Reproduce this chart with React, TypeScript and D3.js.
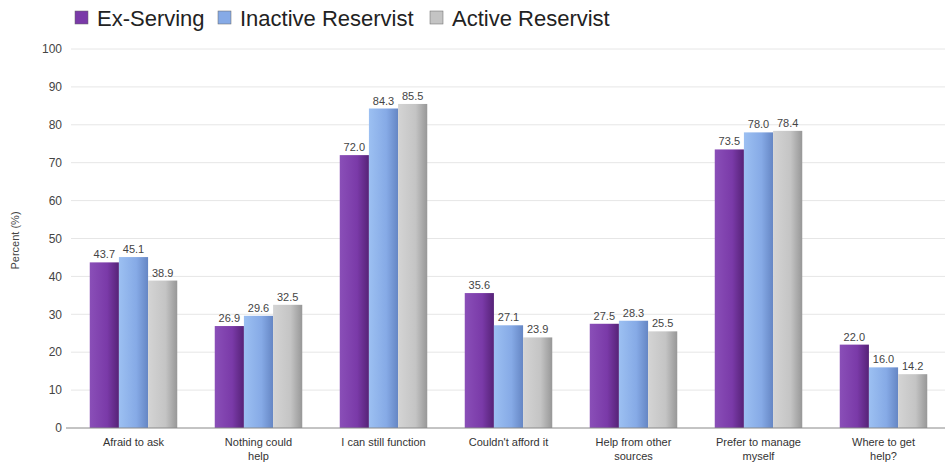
import React from "react";
import * as d3 from "d3";

const categories = [
  ["Afraid to ask"],
  ["Nothing could", "help"],
  ["I can still function"],
  ["Couldn't afford it"],
  ["Help from other", "sources"],
  ["Prefer to manage", "myself"],
  ["Where to get", "help?"],
];
const seriesNames = ["Ex-Serving", "Inactive Reservist", "Active Reservist"];
const exServing = [43.7, 26.9, 72.0, 35.6, 27.5, 73.5, 22.0];
const inactiveReservist = [45.1, 29.6, 84.3, 27.1, 28.3, 78.0, 16.0];
const activeReservist = [38.9, 32.5, 85.5, 23.9, 25.5, 78.4, 14.2];
const yTicks = [0, 10, 20, 30, 40, 50, 60, 70, 80, 90, 100];

const seriesValues = [exServing, inactiveReservist, activeReservist];
const gradStops = [
  ["#8a4fb8", "#7a3aa8", "#562277"],
  ["#9cc0f2", "#86aae6", "#6586c4"],
  ["#d4d4d4", "#c4c4c4", "#979797"],
];
const legendColors = ["#7a3aa8", "#86aae6", "#c4c4c4"];

export default function App() {
  const W = 945, H = 474;
  const x0 = d3.scaleBand<number>().domain(d3.range(categories.length)).range([71, 946]).paddingInner(0.3).paddingOuter(0.15);
  const x1 = d3.scaleBand<number>().domain([0, 1, 2]).range([0, x0.bandwidth()]).padding(0);
  const y = d3.scaleLinear().domain([0, 100]).range([428, 49]);
  const font = "Arial, 'Liberation Sans', sans-serif";
  const legendX = [75, 218, 430];
  return (
    <svg width={W} height={H} style={{ position: "absolute", left: 0, top: 0, background: "#fff" }} fontFamily={font}>
      <defs>
        {gradStops.map((s, i) => (
          <linearGradient key={i} id={"g" + i} x1="0" x2="1" y1="0" y2="0">
            <stop offset="0" stopColor={s[0]} />
            <stop offset="0.6" stopColor={s[1]} />
            <stop offset="1" stopColor={s[2]} />
          </linearGradient>
        ))}
      </defs>
      {yTicks.map((t) => (
        <g key={t}>
          {t > 0 && <line x1={71} x2={945} y1={y(t)} y2={y(t)} stroke="#e6e6e6" strokeWidth={1} />}
          <text x={62} y={y(t)} dy="0.35em" textAnchor="end" fontSize={12} fill="#444">{t}</text>
        </g>
      ))}
      <text transform={`translate(19,${y(50) + 2}) rotate(-90)`} textAnchor="middle" fontSize={11} fill="#444">Percent (%)</text>
      {categories.map((c, ci) => (
        <g key={ci} transform={`translate(${x0(ci)},0)`}>
          {seriesValues.map((vals, si) => (
            <g key={si}>
              <rect x={x1(si)} y={y(vals[ci])} width={x1.bandwidth()} height={y(0) - y(vals[ci])} fill={`url(#g${si})`} />
              <text x={(x1(si) as number) + x1.bandwidth() / 2} y={y(vals[ci]) - 4} textAnchor="middle" fontSize={11} fill="#444">{vals[ci].toFixed(1)}</text>
            </g>
          ))}
          {c.map((line, li) => (
            <text key={li} x={x0.bandwidth() / 2} y={446 + li * 14} textAnchor="middle" fontSize={11} fill="#333">{line}</text>
          ))}
        </g>
      ))}
      <line x1={66} x2={945} y1={y(0)} y2={y(0)} stroke="#888" strokeWidth={1} />
      {seriesNames.map((n, i) => (
        <g key={n}>
          <rect x={legendX[i]} y={11} width={13} height={13} fill={legendColors[i]} stroke="#666" strokeWidth={0.5} />
          <text x={legendX[i] + 22} y={18} dy="0.35em" fontSize={22} fill="#222">{n}</text>
        </g>
      ))}
    </svg>
  );
}
